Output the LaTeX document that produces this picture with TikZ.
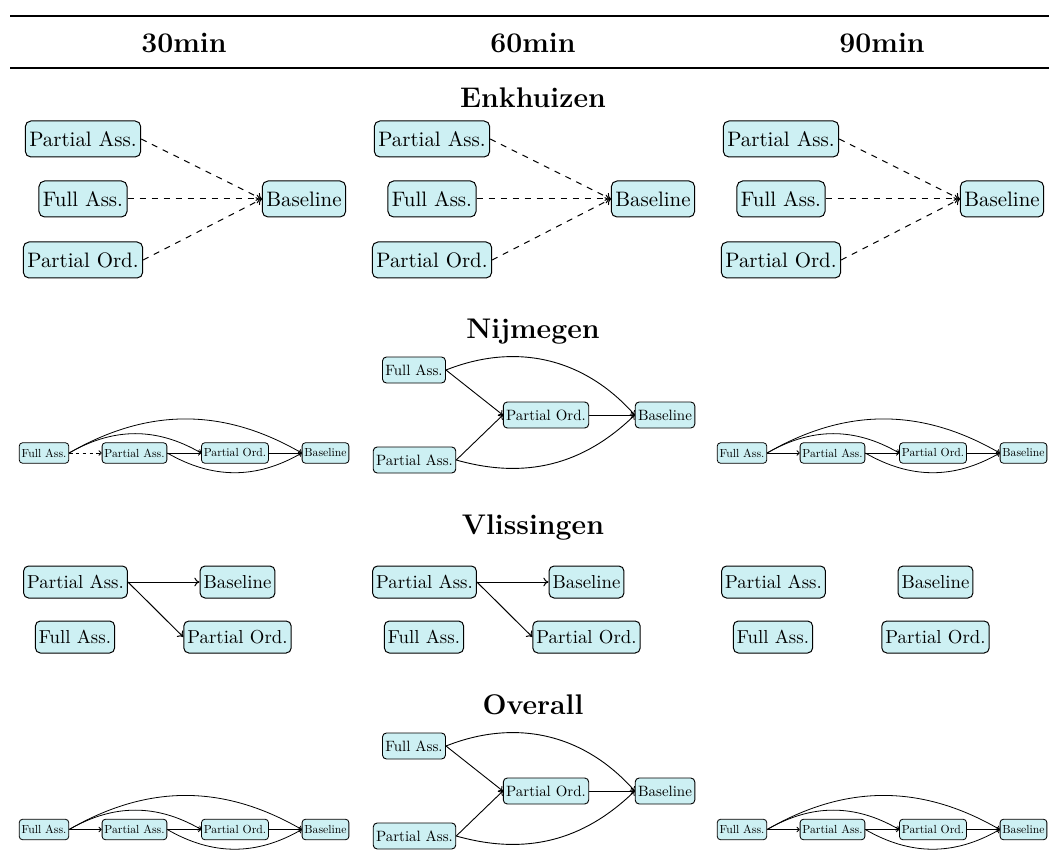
\documentclass[tikz,border=0pt]{standalone}
\usepackage{fontspec}
\usetikzlibrary{arrows.meta}

% one design size for every node label, so that smaller labels keep the same shapes
\newfontfamily\nodefont{lmroman10-regular.otf}

\definecolor{nodefill}{RGB}{205,240,243}

\tikzset{
  box/.style={draw=black, fill=nodefill, inner ysep=0pt, anchor=center},
  bigbox/.style={box, font=\nodefont\fontsize{10.45}{12}\selectfont, minimum height=18pt,
    inner xsep=2pt, rounded corners=2.8pt, line width=0.5pt},
  vlbox/.style={box, font=\nodefont\fontsize{9.4}{11}\selectfont, minimum height=16pt,
    inner xsep=1.8pt, rounded corners=2.5pt, line width=0.5pt},
  medbox/.style={box, font=\nodefont\fontsize{7.47}{9}\selectfont, minimum height=13pt,
    inner xsep=1.45pt, rounded corners=2pt, line width=0.45pt},
  smlbox/.style={box, font=\nodefont\fontsize{5.85}{7}\selectfont, minimum height=10.2pt,
    inner xsep=1.15pt, rounded corners=1.6pt, line width=0.4pt},
  bigedge/.style={-{To[length=2.6pt,width=4.4pt]}, line width=0.5pt},
  mededge/.style={-{To[length=2pt,width=3.4pt]}, line width=0.45pt},
  smledge/.style={-{To[length=1.6pt,width=2.7pt]}, line width=0.4pt},
  bigdash/.style={dash pattern=on 3pt off 3pt},
  smldash/.style={dash pattern=on 1.7pt off 1.7pt},
  head/.style={font=\fontsize{14.2}{17}\selectfont\bfseries, anchor=base},
}

% three sources feeding the baseline with dashed arrows
\newcommand{\fanpanel}[2]{%
  \begin{scope}[shift={(#1,0)}]
    \node[bigbox] (#2pa) at (83,139) {Partial Ass.};
    \node[bigbox] (#2fa) at (83,199) {Full Ass.};
    \node[bigbox] (#2po) at (83,260) {Partial Ord.};
    \node[bigbox] (#2b)  at (304,199) {Baseline};
    \draw[bigedge,bigdash] (#2pa.east) -- (#2b.west);
    \draw[bigedge,bigdash] (#2fa.east) -- (#2b.west);
    \draw[bigedge,bigdash] (#2po.east) -- (#2b.west);
  \end{scope}}

% four nodes in a row; #4 is the style of the first link
\newcommand{\chainpanel}[4]{%
  \begin{scope}[shift={(#1,#2)}]
    \node[smlbox] (#3fa) at (44,0)    {Full Ass.};
    \node[smlbox] (#3pa) at (134.5,0) {Partial Ass.};
    \node[smlbox] (#3po) at (235,0)   {Partial Ord.};
    \node[smlbox] (#3b)  at (325.5,0) {Baseline};
    \draw[smledge,#4] (#3fa.east) -- (#3pa.west);
    \draw[smledge] (#3pa.east) -- (#3po.west);
    \draw[smledge] (#3po.east) -- (#3b.west);
    \draw[smledge] (#3fa.east) to[bend left=30] (#3po.west);
    \draw[smledge] (#3fa.east) to[bend left=30] (#3b.west);
    \draw[smledge] (#3pa.east) to[bend right=30] (#3b.west);
  \end{scope}}

% two sources meeting in the partial order
\newcommand{\diamondpanel}[2]{%
  \begin{scope}[shift={(0,#1)}]
    \node[medbox] (#2fa) at (414,0)    {Full Ass.};
    \node[medbox] (#2pa) at (414.5,90) {Partial Ass.};
    \node[medbox] (#2po) at (546,45)   {Partial Ord.};
    \node[medbox] (#2b)  at (665,45)   {Baseline};
    \draw[mededge] (#2fa.east) -- (#2po.west);
    \draw[mededge] (#2pa.east) -- (#2po.west);
    \draw[mededge] (#2po.east) -- (#2b.west);
    \draw[mededge] (#2fa.east) to[bend left=35] (#2b.west);
    \draw[mededge] (#2pa.east) to[bend right=30] (#2b.west);
  \end{scope}}

% 2x2 grid, #3 = 1 draws the two links
\newcommand{\gridpanel}[3]{%
  \begin{scope}[shift={(#1,0)}]
    \node[vlbox] (#2pa) at (75.5,582)  {Partial Ass.};
    \node[vlbox] (#2b)  at (237.5,582) {Baseline};
    \node[vlbox] (#2fa) at (75,637)    {Full Ass.};
    \node[vlbox] (#2po) at (237.5,637) {Partial Ord.};
    \ifnum#3=1
      \draw[bigedge] (#2pa.east) -- (#2b.west);
      \draw[bigedge] (#2pa.east) -- (#2po.west);
    \fi
  \end{scope}}

\begin{document}
\begin{tikzpicture}[x=0.5pt,y=-0.5pt]
  \useasboundingbox (0,0) rectangle (1049,866);

  % table rules and column heads
  \coordinate (topl) at (10,16);
  \coordinate (topr) at (1049,16);
  \coordinate (midl) at (10,68);
  \coordinate (midr) at (1049,68);
  \draw[line width=1.2pt] (topl) -- (topr);
  \draw[line width=0.7pt] (midl) -- (midr);
  \node[head] (h30) at (184,53) {30min};
  \node[head] (h60) at (533,53) {60min};
  \node[head] (h90) at (882,53) {90min};

  % Enkhuizen
  \node[head] (tEnk) at (533,108) {Enkhuizen};
  \fanpanel{0}{ea}
  \fanpanel{349}{eb}
  \fanpanel{698}{ec}

  % Nijmegen
  \node[head] (tNij) at (533,338) {Nijmegen};
  \chainpanel{0}{453}{na}{smldash}
  \diamondpanel{370}{nb}
  \chainpanel{698}{453}{nc}{solid}

  % Vlissingen
  \node[head] (tVli) at (533,534) {Vlissingen};
  \gridpanel{0}{va}{1}
  \gridpanel{349}{vb}{1}
  \gridpanel{698}{vc}{0}

  % Overall
  \node[head] (tOve) at (533,714) {Overall};
  \chainpanel{0}{829.5}{oa}{solid}
  \diamondpanel{746}{ob}
  \chainpanel{698}{829.5}{oc}{solid}
\end{tikzpicture}
\end{document}
